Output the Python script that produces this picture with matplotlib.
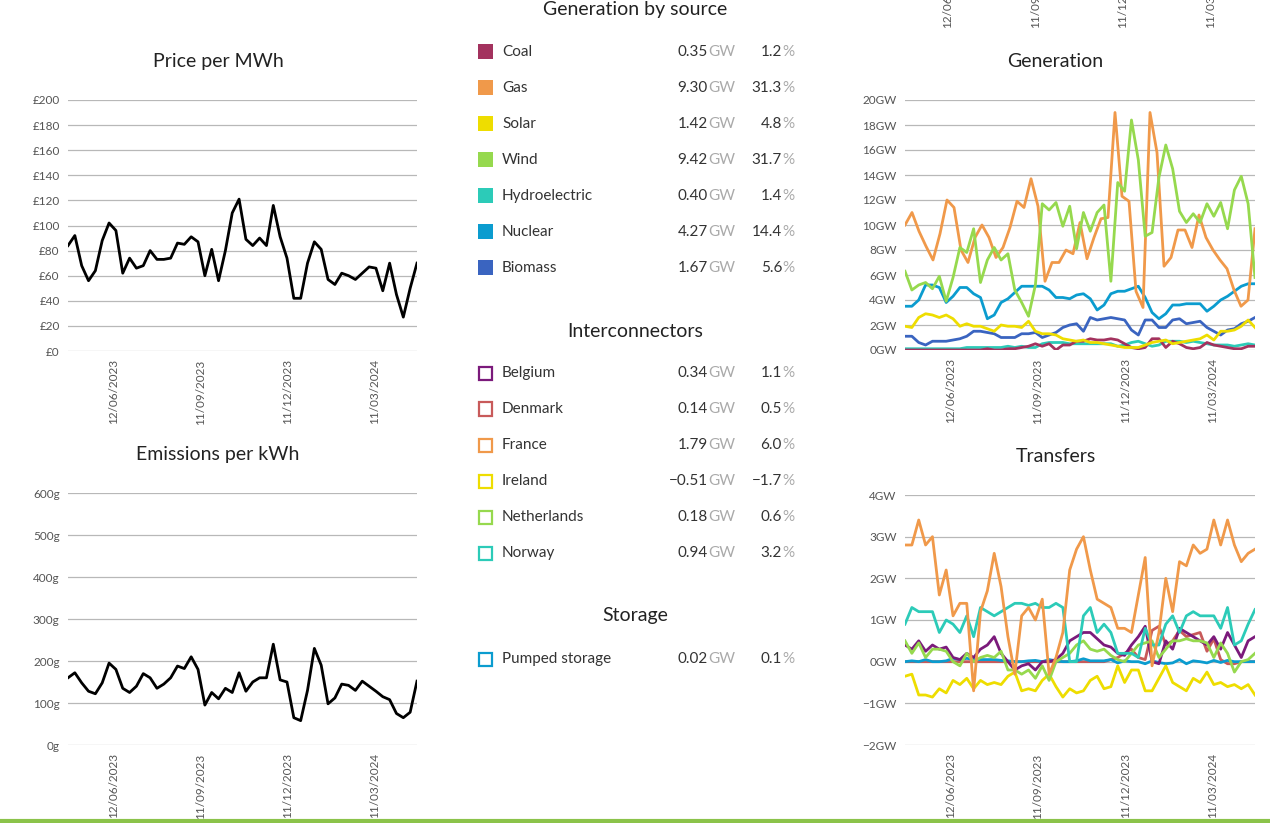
import numpy as np
import pandas as pd
import matplotlib
matplotlib.use('Agg')
import matplotlib.pyplot as plt
import matplotlib.dates as mdates

plt.rcParams['font.family'] = ['Lato', 'DejaVu Sans']

# weekly data, late April 2023 -> late April 2024
price = [84, 92, 68, 56, 64, 88, 102, 96, 62, 74, 66, 68, 80, 73, 73, 74, 86, 85, 91, 87, 60, 81, 56, 80, 110, 121,
         89, 84, 90, 84, 116, 91, 74, 42, 42, 70, 87, 81, 57, 53, 62, 60, 57, 62, 67, 66, 48, 70, 45, 27, 50, 70]
emissions = [160, 172, 148, 128, 122, 148, 195, 180, 135, 125, 140, 170, 160, 135, 145, 160, 188, 182, 210, 180, 95, 125,
             110, 135, 125, 172, 128, 150, 160, 160, 240, 155, 150, 65, 58, 130, 230, 190, 98, 112, 145, 142, 130, 152,
             140, 128, 115, 108, 75, 65, 78, 152]

gen_gas = [10, 11, 9.5, 8.3, 7.2, 9.3, 12, 11.4, 8, 7, 9, 10, 9, 7.4, 8.2, 9.8, 11.9, 11.4, 13.7, 11.5, 5.5, 7, 7, 8,
           7.7, 10.2, 7.3, 9, 10.5, 10.6, 19, 12.3, 11.9, 4.7, 3.4, 19, 15.8, 6.7, 7.4, 9.6, 9.6, 8.2, 10.8, 9, 8, 7.2,
           6.5, 4.8, 3.5, 4, 9.7]
gen_wind = [6.3, 4.8, 5.2, 5.4, 4.9, 5.9, 3.9, 5.8, 8.2, 7.8, 9.7, 5.4, 7.2, 8.2, 7.2, 7.7, 4.8, 3.8, 2.7, 5.2, 11.7,
            11.2, 11.8, 9.9, 11.5, 8.1, 11, 9.5, 11, 11.6, 5.5, 13.4, 12.7, 18.4, 15.2, 9.1, 9.4, 13.8, 16.4, 14.5, 11.1,
            10.2, 10.9, 10.2, 11.7, 10.7, 11.8, 9.7, 12.8, 13.9, 11.7, 5.8]
gen_nuclear = [3.5, 3.5, 4, 5.2, 5.2, 5, 3.8, 4.3, 5, 5, 4.5, 4.2, 2.5, 2.8, 3.8, 4.1, 4.6, 5.1, 5.1, 5.1, 5.1, 4.8, 4.2,
               4.2, 4.1, 4.4, 4.5, 4.1, 3.2, 3.6, 4.5, 4.7, 4.7, 4.9, 5.1, 4.2, 3, 2.5, 2.9, 3.6, 3.6, 3.7, 3.7, 3.7, 3.1,
               3.5, 4, 4.3, 4.7, 5.1, 5.3, 5.3]
gen_solar = [1.9, 1.8, 2.6, 2.9, 2.8, 2.6, 2.8, 2.5, 1.9, 2.1, 1.9, 1.9, 1.7, 1.5, 2, 1.9, 1.9, 1.8, 2.3, 1.5, 1.3, 1.3,
             1.2, 0.9, 0.8, 0.7, 0.8, 0.6, 0.6, 0.5, 0.4, 0.3, 0.2, 0.2, 0.2, 0.4, 0.6, 0.7, 0.8, 0.5, 0.6, 0.7, 0.8, 0.9,
             1.2, 0.8, 1.5, 1.5, 1.6, 1.9, 2.4, 1.8]
gen_biomass = [1.1, 1.1, 0.6, 0.4, 0.7, 0.7, 0.7, 0.8, 0.9, 1.1, 1.5, 1.5, 1.4, 1.3, 1, 1, 1, 1.3, 1.3, 1.4, 1, 1.2, 1.4,
               1.8, 2, 2.1, 1.5, 2.6, 2.4, 2.5, 2.6, 2.5, 2.4, 1.6, 1.2, 2.4, 2.4, 1.8, 1.8, 2.4, 2.5, 2.1, 2.2, 2.3, 1.8,
               1.5, 1.2, 1.6, 1.7, 2.1, 2.3, 2.6]
gen_coal = [0, 0, 0, 0, 0, 0, 0, 0, 0, 0, 0, 0, 0.1, 0, 0, 0.1, 0.1, 0.2, 0.3, 0.5, 0.3, 0.5, 0, 0.4, 0.4, 0.7, 0.7, 0.9,
            0.8, 0.8, 0.9, 0.8, 0.5, 0.2, 0.1, 0.2, 0.9, 0.9, 0.2, 0.7, 0.5, 0.2, 0.1, 0.2, 0.6, 0.4, 0.3, 0.2, 0.1, 0.1,
            0.3, 0.3]
gen_hydro = [0.1, 0.1, 0.1, 0.1, 0.1, 0.1, 0.1, 0.1, 0.1, 0.2, 0.2, 0.2, 0.2, 0.2, 0.2, 0.3, 0.2, 0.3, 0.2, 0.2, 0.5, 0.6,
             0.6, 0.6, 0.5, 0.5, 0.5, 0.5, 0.5, 0.5, 0.5, 0.3, 0.4, 0.6, 0.7, 0.5, 0.3, 0.4, 0.7, 0.7, 0.7, 0.6, 0.7, 0.6,
             0.5, 0.4, 0.4, 0.4, 0.3, 0.4, 0.5, 0.4]

tr_france = [2.8, 2.8, 3.4, 2.8, 3, 1.6, 2.2, 1.1, 1.4, 1.4, -0.7, 1.2, 1.7, 2.6, 1.8, 0.6, -0.3, 1.1, 1.3, 1, 1.5, -0.3,
             0.1, 0.7, 2.2, 2.7, 3, 2.2, 1.5, 1.4, 1.3, 0.8, 0.8, 0.7, 1.6, 2.5, -0.1, 0.7, 2, 1.2, 2.4, 2.3, 2.8, 2.6,
             2.7, 3.4, 2.8, 3.4, 2.8, 2.4, 2.6, 2.7]
tr_norway = [0.9, 1.3, 1.2, 1.2, 1.2, 0.7, 1, 0.9, 0.7, 1.1, 0.6, 1.3, 1.2, 1.1, 1.2, 1.3, 1.4, 1.4, 1.35, 1.4, 1.3, 1.3,
             1.4, 1.3, 0, 0, 1.1, 1.3, 0.7, 0.9, 0.7, 0.2, 0.2, 0.2, 0.1, 0.8, 0.4, 0.4, 0.9, 1.1, 0.7, 1.1, 1.2, 1.1,
             1.1, 1.1, 0.8, 1.3, 0.4, 0.5, 0.9, 1.25]
tr_belgium = [0.4, 0.3, 0.5, 0.25, 0.4, 0.3, 0.35, 0.1, 0.05, 0.2, 0.1, 0.3, 0.4, 0.6, 0.2, 0, -0.2, -0.1, -0.05, -0.2,
              0, 0, 0.05, 0.2, 0.5, 0.6, 0.7, 0.7, 0.55, 0.4, 0.35, 0.2, 0.15, 0.4, 0.6, 0.85, 0, -0.05, 0.5, 0.3, 0.8,
              0.7, 0.6, 0.5, 0.4, 0.6, 0.3, 0.7, 0.4, 0.1, 0.5, 0.6]
tr_netherlands = [0.5, 0.2, 0.45, 0.1, 0.3, 0.3, 0.25, 0, -0.1, 0.2, 0, 0.1, 0.15, 0.1, 0.25, -0.2, -0.2, -0.3, -0.2,
                  -0.4, -0.1, -0.45, 0, 0.1, 0.2, 0.4, 0.5, 0.3, 0.25, 0.3, 0.15, 0.05, 0, 0.2, 0.4, 0.45, 0.5, 0.1, 0.3,
                  0.5, 0.5, 0.55, 0.5, 0.5, 0.45, 0.1, 0.45, 0.2, -0.25, 0, 0.05, 0.2]
tr_denmark = [0] * 30 + [0.05, 0.1, 0.2, 0.3, 0.1, 0.05, 0.75, 0.85, 0.4, 0.5, 0.75, 0.6, 0.65, 0.7, 0.25, 0.55, 0.05,
                         -0.05, -0.05, 0, 0, 0]
tr_ireland = [-0.35, -0.3, -0.8, -0.8, -0.85, -0.65, -0.75, -0.45, -0.55, -0.4, -0.65, -0.45, -0.55, -0.5, -0.55, -0.35,
              -0.25, -0.7, -0.65, -0.7, -0.45, -0.3, -0.6, -0.85, -0.65, -0.75, -0.7, -0.45, -0.35, -0.65, -0.6, -0.1,
              -0.5, -0.2, -0.2, -0.7, -0.7, -0.4, -0.1, -0.5, -0.6, -0.7, -0.4, -0.5, -0.25, -0.55, -0.5, -0.6, -0.55,
              -0.65, -0.55, -0.8]
tr_pumped = [0, 0.02, 0, 0.05, 0, 0, 0.02, 0.08, 0.05, 0.08, 0.05, 0.05, 0.05, 0.05, 0.03, 0.02, 0, 0, 0.02, 0.03, 0,
             0.05, 0.02, 0, 0, 0.02, 0.07, 0.02, 0.02, 0.02, 0.05, -0.03, 0.02, 0, 0, -0.05, 0.02, -0.02, -0.05, -0.03,
             0.05, -0.05, 0.02, 0, -0.03, 0.03, -0.02, 0.03, 0, 0, 0, 0]

gen_names = ['Coal', 'Gas', 'Solar', 'Wind', 'Hydroelectric', 'Nuclear', 'Biomass']
gen_gw = ['0.35', '9.30', '1.42', '9.42', '0.40', '4.27', '1.67']
gen_pct = ['1.2', '31.3', '4.8', '31.7', '1.4', '14.4', '5.6']
ic_names = ['Belgium', 'Denmark', 'France', 'Ireland', 'Netherlands', 'Norway']
ic_gw = ['0.34', '0.14', '1.79', '\u22120.51', '0.18', '0.94']
ic_pct = ['1.1', '0.5', '6.0', '\u22121.7', '0.6', '3.2']
st_names = ['Pumped storage']
st_gw = ['0.02']
st_pct = ['0.1']

date_ticks = ['2023-06-12', '2023-09-11', '2023-12-11', '2024-03-11']

C = {'Coal': '#a3325e', 'Gas': '#f0994a', 'Solar': '#eedd00', 'Wind': '#96d94e', 'Hydroelectric': '#2ccbb8',
     'Nuclear': '#0b9ccf', 'Biomass': '#3a64c0', 'Belgium': '#7b1a7b', 'Denmark': '#c85a5a', 'France': '#f0994a',
     'Ireland': '#eedd00', 'Netherlands': '#96d94e', 'Norway': '#2ccbb8', 'Pumped storage': '#0b9ccf'}

start, end = pd.Timestamp('2023-04-26'), pd.Timestamp('2024-04-24')


def dates_for(vals):
    return pd.date_range(start, end, periods=len(vals))


fig = plt.figure(figsize=(12.7, 8.23), dpi=100)
W, H = 1270, 823


def make_ax(x0, x1, y0, y1):
    return fig.add_axes([x0 / W, 1 - y1 / H, (x1 - x0) / W, (y1 - y0) / H])


def style(ax, title, ylim, ticks, labels):
    ax.set_ylim(*ylim)
    ax.set_xlim(start, end)
    ax.set_yticks(ticks)
    ax.set_yticklabels(labels)
    ax.yaxis.grid(True, color='#b8b8b8', lw=0.9)
    ax.set_axisbelow(True)
    for s in ax.spines.values():
        s.set_visible(False)
    ax.tick_params(length=0, labelsize=8.5, labelcolor='#555555', pad=6)
    ax.set_xticks(pd.to_datetime(date_ticks))
    ax.xaxis.set_major_formatter(mdates.DateFormatter('%d/%m/%Y'))
    plt.setp(ax.get_xticklabels(), rotation=90)
    # title is centred over the whole panel, labels included
    ax.set_title(title, fontsize=14, color='#222222', pad=24, x=0.43)


ax = make_ax(68, 417, 100, 351)
ax.plot(dates_for(price), price, color='black', lw=2)
style(ax, 'Price per MWh', (0, 200), range(0, 201, 20), ['\u00a3%d' % v for v in range(0, 201, 20)])

ax = make_ax(68, 417, 493, 745)
ax.plot(dates_for(emissions), emissions, color='black', lw=2)
style(ax, 'Emissions per kWh', (0, 600), range(0, 601, 100), ['%dg' % v for v in range(0, 601, 100)])

ax = make_ax(905, 1255, 100, 350)
for name, vals in [('Hydroelectric', gen_hydro), ('Coal', gen_coal), ('Biomass', gen_biomass), ('Solar', gen_solar),
                   ('Nuclear', gen_nuclear), ('Gas', gen_gas), ('Wind', gen_wind)]:
    ax.plot(dates_for(vals), vals, color=C[name], lw=2)
style(ax, 'Generation', (0, 20), range(0, 21, 2), ['%dGW' % v for v in range(0, 21, 2)])

ax = make_ax(905, 1255, 495, 745)
for name, vals in [('Denmark', tr_denmark), ('Pumped storage', tr_pumped), ('Ireland', tr_ireland),
                   ('Belgium', tr_belgium), ('Netherlands', tr_netherlands), ('Norway', tr_norway),
                   ('France', tr_france)]:
    ax.plot(dates_for(vals), vals, color=C[name], lw=2)
style(ax, 'Transfers', (-2, 4), range(-2, 5), ['%sGW' % str(v).replace('-', '\u2212') for v in range(-2, 5)])

# date labels of the row above, cut off at the top edge as in the page
for d, xp in zip(['12/06/2023', '11/09/2023', '11/12/2023', '11/03/2024'], [948, 1036, 1123, 1211]):
    fig.text(xp / W, 1 - 28 / H, d, rotation=90, fontsize=8.5, color='#555555', ha='center', va='bottom')

# middle summary panel
def section(title, ty, names, gws, pcts, y0, filled):
    fig.text(635 / W, 1 - ty / H, title, fontsize=14, color='#222222', ha='center', va='center')
    for i, (n, g, p) in enumerate(zip(names, gws, pcts)):
        y = 1 - (y0 + 36 * i) / H
        if filled:
            sq = plt.Rectangle((478 / W, y - 7 / H), 15 / W, 15 / H, transform=fig.transFigure,
                               facecolor=C[n], edgecolor='none')
        else:
            sq = plt.Rectangle((479 / W, y - 6.5 / H), 13 / W, 13 / H, transform=fig.transFigure,
                               facecolor='white', edgecolor=C[n], lw=1.6)
        fig.add_artist(sq)
        fig.text(502 / W, y, n, fontsize=11, color='#333333', va='center')
        fig.text(708 / W, y, g, fontsize=11, color='#333333', va='center', ha='right')
        fig.text(708 / W, y, 'GW', fontsize=11, color='#aaaaaa', va='center', ha='left')
        fig.text(782 / W, y, p, fontsize=11, color='#333333', va='center', ha='right')
        fig.text(782 / W, y, '%', fontsize=11, color='#aaaaaa', va='center', ha='left')


section('Generation by source', 10, gen_names, gen_gw, gen_pct, 52, True)
section('Interconnectors', 331, ic_names, ic_gw, ic_pct, 373, False)
section('Storage', 616, st_names, st_gw, st_pct, 659, False)

fig.add_artist(plt.Line2D([0, 1], [1 - 821 / H, 1 - 821 / H], transform=fig.transFigure, color='#8bc34a', lw=3))

fig.savefig('out.png', dpi=100, facecolor='white')
